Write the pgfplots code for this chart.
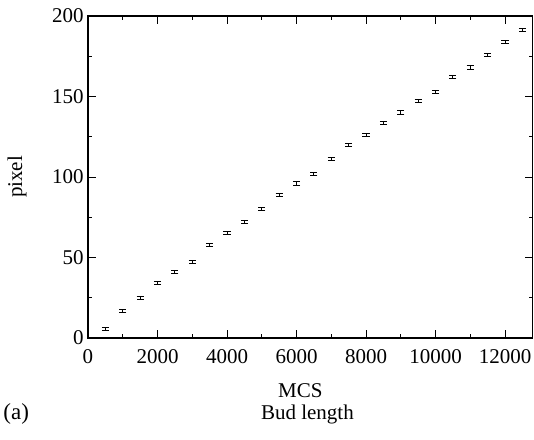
\documentclass[border=0pt]{standalone}
\usepackage{fontspec}
\setmainfont{Liberation Serif}
\usepackage{pgfplots}
\usetikzlibrary{calc}
\pgfplotsset{compat=1.18}
\begin{document}
\fontsize{10.5pt}{12.6pt}\selectfont
\begin{tikzpicture}
\begin{axis}[
  scale only axis,
  width=222.4pt, height=161pt,
  xmin=0, xmax=12800, ymin=0, ymax=200,
  xtick={0,2000,...,12000},
  ytick={0,50,...,200},
  minor xtick={1000,3000,...,11000},
  minor ytick={25,75,...,175},
  tick align=inside,
  major tick length=4pt, minor tick length=2pt,
  tick style={black, line width=0.5pt},
  axis line style={black, line width=0.6pt},
  scaled x ticks=false,
  xticklabel style={yshift=-2pt, /pgf/number format/fixed, /pgf/number format/1000 sep={}},
  /pgf/number format/assume math mode=true,
  yticklabel style={xshift=1.5pt},
  xlabel={MCS}, ylabel={pixel},
  xlabel style={yshift=-3pt, xshift=-5pt},
  ylabel style={yshift=5.5pt},
  tick label style={font=\fontsize{10.5pt}{12.6pt}\selectfont},
  label style={font=\fontsize{10.5pt}{12.6pt}\selectfont},
]
\addplot[black, draw=none, mark=none, line width=0.5pt,
  error bars/.cd, y dir=both, y explicit, error mark=-,
  error bar style={draw=black, line width=0.5pt},
  error mark options={rotate=90, mark size=1.8pt, line width=0.5pt, draw=black}]
 table[x=x, y=y, y error=e] {
x y e
500 5.5 1
1000 16.7 1
1500 25 1
2000 34 1
2500 41 1
3000 47.3 1
3500 58 1
4000 65 1
4500 72 1
5000 80 1
5500 89 1
6000 96 1
6500 102 1
7000 111 1
7500 120 1
8000 126 1
8500 133.5 1
9000 140 1
9500 147 1
10000 153 1
10500 162 1
11000 168 1
11500 176 1
12000 184 1
12500 191.3 1
};
\end{axis}
\node[anchor=base, inner sep=0pt] at ($(current axis.south west)!0.5!(current axis.south east)+(-1.5pt,-40.5pt)$) {Bud length};
\node[anchor=base west, inner sep=0pt, font=\fontsize{11.5pt}{13pt}\selectfont] at ($(current axis.south west)+(-42.5pt,-40.5pt)$) {(a)};
\pgfresetboundingbox
\path[use as bounding box] ($(current axis.south west)+(-44pt,-50.5pt)$) rectangle ($(current axis.north east)+(0.6pt,8pt)$);
\end{tikzpicture}
\end{document}
